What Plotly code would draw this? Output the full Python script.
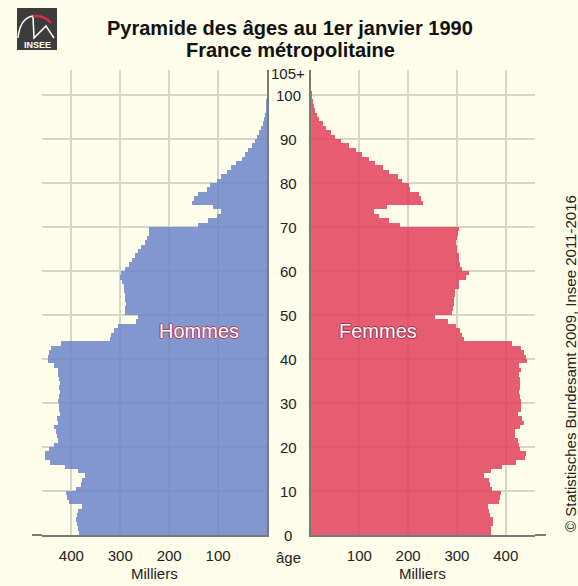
import plotly.graph_objects as go

W, H = 578, 586

ages = list(range(0, 106))

hommes = [
    384, 386, 388, 390, 388, 386, 378, 405, 409, 410,   # 0-9
    390, 381, 379, 373, 386, 413, 444, 454, 454, 446,   # 10-19
    436, 427, 430, 432, 436, 427, 430, 424, 426, 426,   # 20-29
    427, 425, 424, 425, 424, 425, 428, 428, 435, 448,   # 30-39
    448, 445, 441, 421, 322, 318, 312, 305, 268, 263,   # 40-49
    291, 290, 289, 290, 291, 293, 293, 296, 300, 298,   # 50-59
    291, 282, 277, 269, 263, 258, 250, 245, 242, 242,   # 60-69
    141, 120, 103, 95, 110, 154, 149, 141, 122, 117,    # 70-79
    103, 95, 81, 73, 64, 52, 45, 39, 30, 25,            # 80-89
    20, 16, 13, 9, 6, 4.5, 3, 2, 1.2, 0.8,              # 90-99
    0.5, 0.3, 0.2, 0.1, 0.1, 0.1,                       # 100-105
]

femmes = [
    368, 369, 373, 372, 366, 364, 362, 385, 388, 390,   # 0-9
    370, 366, 365, 354, 368, 392, 421, 438, 440, 429,   # 10-19
    426, 424, 417, 419, 428, 436, 433, 424, 430, 431,   # 20-29
    431, 429, 427, 429, 429, 429, 426, 430, 426, 442,   # 30-39
    440, 436, 431, 412, 313, 310, 305, 298, 280, 255,   # 40-49
    289, 291, 293, 292, 296, 296, 303, 304, 317, 323,   # 50-59
    310, 306, 304, 304, 300, 299, 297, 299, 302, 303,   # 60-69
    182, 159, 139, 130, 156, 229, 226, 222, 202, 201,   # 70-79
    187, 179, 159, 148, 132, 118, 105, 93, 77, 62,      # 80-89
    49, 40, 31, 24, 17, 13, 9, 6.5, 4, 2.5,             # 90-99
    1.5, 1.0, 0.6, 0.3, 0.2, 0.1,                       # 100-105
]

age_ticks = [0, 10, 20, 30, 40, 50, 60, 70, 80, 90, 100, 105]
age_labels = ["0", "10", "20", "30", "40", "50", "60", "70", "80", "90", "100", "105+"]
x_ticks = [100, 200, 300, 400]
x_labels = ["100", "200", "300", "400"]

BG = "#fdfdea"
BLUE = "rgba(108,134,200,0.86)"
RED = "rgba(226,66,94,0.86)"
GRID = "#d6d6c8"
AXIS = "#7a7a74"
FONT = "Liberation Sans, Arial, sans-serif"
TXT = "#222222"


def px(x):
    return x / W


def py(y):
    return 1 - y / H


ymid = [a + 0.5 for a in ages]

fig = go.Figure()
fig.add_trace(go.Bar(x=hommes, y=ymid, orientation="h", width=1,
                     marker=dict(color=BLUE, line=dict(width=0)),
                     xaxis="x", yaxis="y", showlegend=False, hoverinfo="x+y"))
fig.add_trace(go.Bar(x=femmes, y=ymid, orientation="h", width=1,
                     marker=dict(color=RED, line=dict(width=0)),
                     xaxis="x2", yaxis="y2", showlegend=False, hoverinfo="x+y"))

y_dom = [py(535), py(70)]
y_rng = [0, (535 - 70) / 4.4]

common_x = dict(tickvals=x_ticks, ticktext=x_labels, showgrid=True, gridcolor=GRID,
                gridwidth=2, showline=True, linecolor=AXIS, linewidth=2, zeroline=False,
                ticks="outside", ticklen=6, tickcolor="rgba(0,0,0,0)",
                tickfont=dict(size=15, color=TXT, family=FONT), fixedrange=True)
common_y = dict(range=y_rng, domain=y_dom, tickvals=[0, 10, 20, 30, 40, 50, 60, 70, 80, 90, 100],
                showticklabels=False, showgrid=True, gridcolor=GRID, gridwidth=2,
                showline=True, linecolor=AXIS, linewidth=2, zeroline=False, ticks="",
                fixedrange=True)

fig.update_layout(
    width=W, height=H,
    margin=dict(l=0, r=0, t=0, b=0),
    paper_bgcolor=BG, plot_bgcolor=BG,
    bargap=0,
    font=dict(family=FONT, size=15, color=TXT),
    xaxis=dict(domain=[px(42), px(267)], range=[460, 0], anchor="y", **common_x),
    yaxis=dict(anchor="x", side="right", **common_y),
    xaxis2=dict(domain=[px(310.5), px(535)], range=[0, 460], anchor="y2", **common_x),
    yaxis2=dict(anchor="x2", side="left", **common_y),
)

ann = []
for v, t in zip(age_ticks, age_labels):
    ann.append(dict(x=px(288), xref="paper", y=v, yref="y", text=t, showarrow=False,
                    xanchor="center", yanchor="middle", font=dict(size=15, color=TXT)))
ann += [
    dict(x=px(288), y=py(557), xref="paper", yref="paper", text="âge", showarrow=False,
         xanchor="center", yanchor="middle", font=dict(size=15, color=TXT)),
    dict(x=px(154.5), y=py(573), xref="paper", yref="paper", text="Milliers", showarrow=False,
         xanchor="center", yanchor="middle", font=dict(size=15, color=TXT)),
    dict(x=px(422.7), y=py(573), xref="paper", yref="paper", text="Milliers", showarrow=False,
         xanchor="center", yanchor="middle", font=dict(size=15, color=TXT)),
    dict(x=px(290), y=py(28), xref="paper", yref="paper",
         text="<b>Pyramide des âges au 1er janvier 1990</b>", showarrow=False,
         xanchor="center", yanchor="middle", font=dict(size=20, color="#111")),
    dict(x=px(290), y=py(50), xref="paper", yref="paper",
         text="<b>France métropolitaine</b>", showarrow=False,
         xanchor="center", yanchor="middle", font=dict(size=20, color="#111")),
    dict(x=px(199), y=py(331), xref="paper", yref="paper", text="Hommes", showarrow=False,
         xanchor="center", yanchor="middle",
         font=dict(size=20, color="white",
                   shadow="1px 0 #b03a55, -1px 0 #b03a55, 0 1px #b03a55, 0 -1px #b03a55")),
    dict(x=px(378), y=py(331), xref="paper", yref="paper", text="Femmes", showarrow=False,
         xanchor="center", yanchor="middle",
         font=dict(size=20, color="white",
                   shadow="1px 0 #a83050, -1px 0 #a83050, 0 1px #a83050, 0 -1px #a83050")),
    dict(x=px(570), y=py(364), xref="paper", yref="paper",
         text="© Statistisches Bundesamt 2009, Insee 2011-2016", showarrow=False,
         textangle=-90, xanchor="center", yanchor="middle", font=dict(size=15, color=TXT)),
    dict(x=px(37), y=py(45), xref="paper", yref="paper", text="<b>INSEE</b>", showarrow=False,
         xanchor="center", yanchor="middle", font=dict(size=9, color="white")),
]

shapes = [
    # bottom axis line extensions
    dict(type="line", xref="paper", yref="paper", x0=px(32), x1=px(42), y0=py(535), y1=py(535),
         line=dict(color=AXIS, width=2)),
    dict(type="line", xref="paper", yref="paper", x0=px(535), x1=px(546), y0=py(535), y1=py(535),
         line=dict(color=AXIS, width=2)),
    # logo
    dict(type="rect", xref="paper", yref="paper", x0=px(17), x1=px(57), y0=py(50), y1=py(8),
         fillcolor="#3c3c3c", line=dict(width=0)),
    dict(type="path", xref="paper", yref="paper",
         path=f"M {px(18)},{py(38)} Q {px(20)},{py(18)} {px(33)},{py(16)}",
         line=dict(color="white", width=1.5)),
    dict(type="path", xref="paper", yref="paper",
         path=f"M {px(33)},{py(16)} Q {px(45)},{py(15)} {px(51)},{py(23)}",
         line=dict(color="#e0284a", width=2.5)),
    dict(type="path", xref="paper", yref="paper",
         path=f"M {px(33)},{py(17)} L {px(34)},{py(38)} L {px(46)},{py(26)} L {px(54)},{py(38)}",
         line=dict(color="white", width=1.5)),
]

fig.update_layout(annotations=ann, shapes=shapes)

fig.write_html("out.html", config={"displayModeBar": False},
               post_script="document.body.style.margin='0';")
